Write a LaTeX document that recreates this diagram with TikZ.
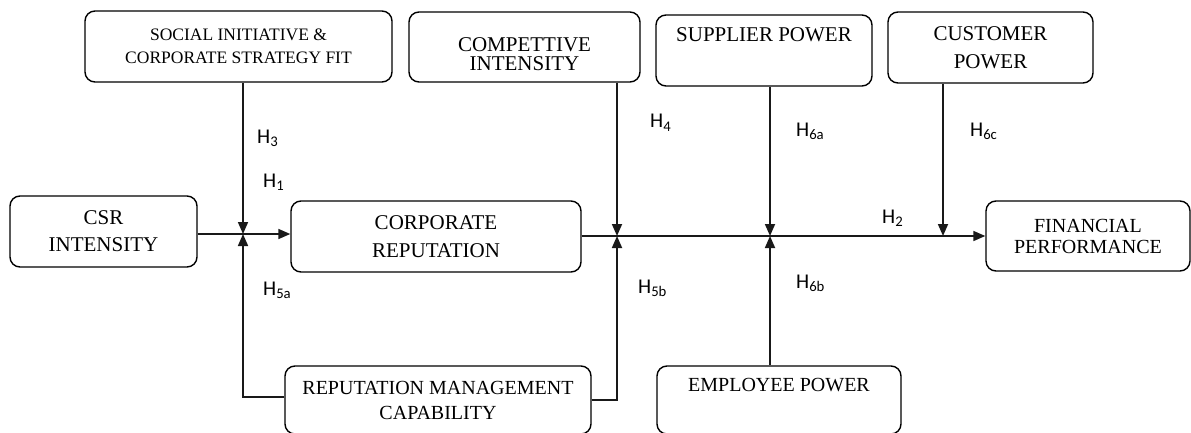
\documentclass[tikz,border=0pt]{standalone}
\usepackage{fontspec}
\setmainfont{Liberation Serif}
\newfontfamily\labfont{Carlito}
\usetikzlibrary{arrows.meta}
\begin{document}
\begin{tikzpicture}[x=1pt,y=-1pt,
  box/.style={draw, line width=1.4pt, rounded corners=10pt, inner sep=0pt, align=center, text=black},
  conn/.style={line width=1.7pt, black!90},
  arr/.style={conn, -{Triangle[length=12pt,width=10pt]}},
  hyp/.style={anchor=base west, inner sep=0pt, font=\labfont\fontsize{21}{24}\selectfont, text=black}]
\useasboundingbox (0,0) rectangle (1191,433);
% boxes
\node[box, minimum width=307pt, minimum height=71pt, font=\fontsize{17.5}{23}\selectfont] (social) at (238.5,46.5) {SOCIAL INITIATIVE \&\\CORPORATE STRATEGY FIT};
\node[box, minimum width=231pt, minimum height=70pt, font=\fontsize{21}{19}\selectfont] (comp) at (524.5,47) {\rule{0pt}{29pt}COMPETTIVE\\INTENSITY};
\node[box, minimum width=216pt, minimum height=71pt, font=\fontsize{21}{24}\selectfont] (supp) at (764,50.5) {SUPPLIER POWER\\\strut};
\node[box, minimum width=205pt, minimum height=71pt, font=\fontsize{21}{28}\selectfont] (cust) at (990.5,47.5) {CUSTOMER\\POWER};
\node[box, minimum width=187pt, minimum height=71pt, font=\fontsize{21}{27}\selectfont] (csr) at (103.5,231.5) {CSR\\INTENSITY};
\node[box, minimum width=290pt, minimum height=71pt, font=\fontsize{21}{28}\selectfont] (corp) at (436,236.5) {CORPORATE\\REPUTATION};
\node[box, minimum width=204pt, minimum height=70pt, font=\fontsize{20}{21}\selectfont] (fin) at (1088,236) {FINANCIAL\\PERFORMANCE};
\node[box, minimum width=306pt, minimum height=68pt, font=\fontsize{20}{25}\selectfont] (rep) at (438,400) {REPUTATION MANAGEMENT\\CAPABILITY};
\node[box, minimum width=244pt, minimum height=68pt, font=\fontsize{20}{24}\selectfont] (emp) at (779,400) {EMPLOYEE POWER\\\strut};
% junctions
\coordinate (j1) at (243,234);
\coordinate (j2) at (617,236);
\coordinate (j3) at (770,236);
\coordinate (j4) at (943,236);
\coordinate (r1) at (243,397);
\coordinate (r2) at (617,400);
% connectors
\draw[arr] (csr.east|-j1) -- (corp.west|-j1);
\draw[arr] (social.south-|j1) -- (j1);
\draw[arr] (rep.west|-r1) -- (r1) -- (j1);
\draw[arr] (corp.east|-j2) -- (fin.west|-j2);
\draw[arr] (comp.south-|j2) -- (j2);
\draw[arr] (rep.east|-r2) -- (r2) -- (j2);
\draw[arr] (supp.south-|j3) -- (j3);
\draw[arr] (emp.north-|j3) -- (j3);
\draw[arr] (cust.south-|j4) -- (j4);
% hypothesis labels
\node[hyp] (h3) at (257,143) {H\textsubscript{3}};
\node[hyp] (h1) at (263,187) {H\textsubscript{1}};
\node[hyp] (h5a) at (263,295) {H\textsubscript{5a}};
\node[hyp] (h4) at (650,128) {H\textsubscript{4}};
\node[hyp] (h6a) at (796,136) {H\textsubscript{6a}};
\node[hyp] (h6c) at (970,136) {H\textsubscript{6c}};
\node[hyp] (h2) at (882,223) {H\textsubscript{2}};
\node[hyp] (h5b) at (638,293) {H\textsubscript{5b}};
\node[hyp] (h6b) at (796,288) {H\textsubscript{6b}};
\end{tikzpicture}
\end{document}
